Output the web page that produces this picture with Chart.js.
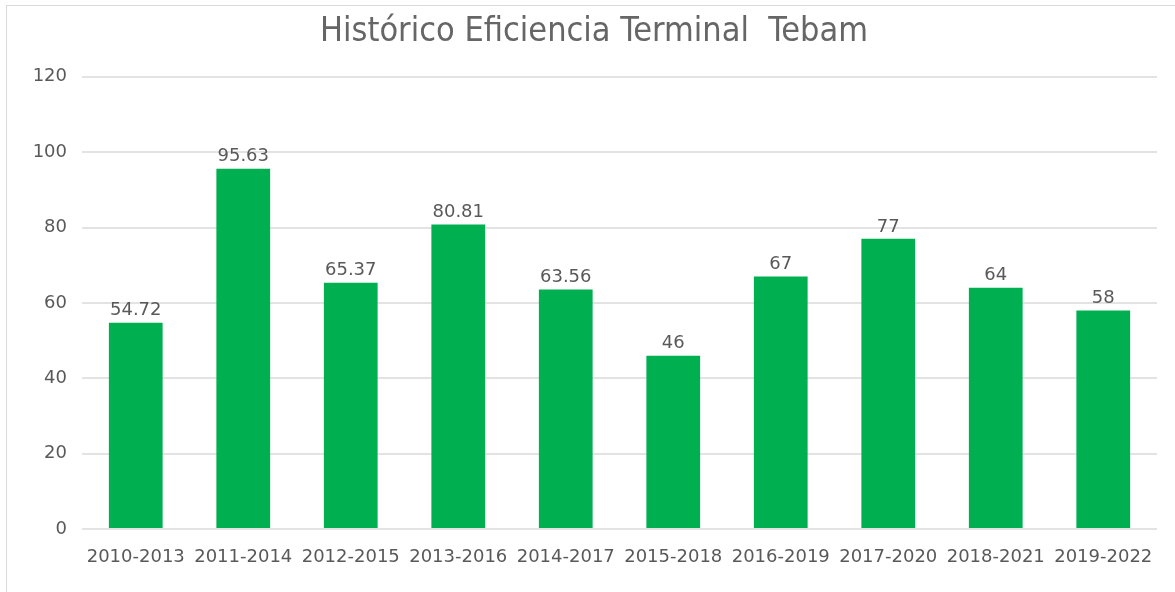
<!DOCTYPE html>
<html>
<head>
<meta charset="utf-8">
<script src="https://cdn.jsdelivr.net/npm/chart.js@4/dist/chart.umd.min.js"></script>
<style>
    html, body { margin: 0; padding: 0; background: #fff; }
    #wrap { position: relative; width: 1175px; height: 592px; }
    #frame { position: absolute; left: 6px; top: 5px; right: -2px; bottom: -2px;
             border-left: 1px solid #d9d9d9; border-top: 1px solid #d9d9d9; }
    canvas { position: absolute; left: 0; top: 0; }
</style>
</head>
<body>
<div id="wrap">
    <div id="frame"></div>
    <canvas id="effChart" width="1175" height="592"></canvas>
</div>
<script>
const periods = ['2010-2013', '2011-2014', '2012-2015', '2013-2016', '2014-2017',
                 '2015-2018', '2016-2019', '2017-2020', '2018-2021', '2019-2022'];
const efficiency = [54.72, 95.63, 65.37, 80.81, 63.56, 46, 67, 77, 64, 58];

const textColor = '#595959';

// Value labels above each bar
const barLabels = {
    id: 'barLabels',
    afterDatasetsDraw(chart) {
        const ctx = chart.ctx;
        const meta = chart.getDatasetMeta(0);
        ctx.save();
        ctx.font = '18px "DejaVu Sans"';
        ctx.fillStyle = textColor;
        ctx.textAlign = 'center';
        ctx.textBaseline = 'bottom';
        meta.data.forEach((bar, i) => {
            ctx.fillText(String(efficiency[i]), bar.x, bar.y - 3);
        });
        ctx.restore();
    }
};

new Chart(document.getElementById('effChart'), {
    type: 'bar',
    data: {
        labels: periods,
        datasets: [{
            data: efficiency,
            backgroundColor: '#00b050',
            categoryPercentage: 1,
            barPercentage: 0.5
        }]
    },
    options: {
        responsive: false,
        animation: false,
        layout: {
            padding: { left: 31, right: 18, top: 0, bottom: 0 }
        },
        plugins: {
            legend: { display: false },
            tooltip: { enabled: false },
            title: {
                display: true,
                text: 'Histórico Eficiencia Terminal  Tebam',
                color: '#666666',
                font: { family: '"DejaVu Sans Condensed", "DejaVu Sans"', size: 34, weight: 'normal' },
                padding: { top: 12, bottom: 24 }
            }
        },
        scales: {
            y: {
                min: 0,
                max: 120,
                afterFit(scale) { scale.width = 51; },
                ticks: {
                    stepSize: 20,
                    color: textColor,
                    padding: 15,
                    font: { family: '"DejaVu Sans"', size: 18 }
                },
                grid: {
                    color: '#e3e3e3',
                    lineWidth: 2,
                    drawTicks: false
                },
                border: { display: false }
            },
            x: {
                afterFit(scale) { scale.height = 63; },
                ticks: {
                    color: textColor,
                    padding: 18,
                    maxRotation: 0,
                    autoSkip: false,
                    font: { family: '"DejaVu Sans"', size: 18 }
                },
                grid: { display: false, drawTicks: false },
                border: { display: false }
            }
        }
    },
    plugins: [barLabels]
});
</script>
</body>
</html>
